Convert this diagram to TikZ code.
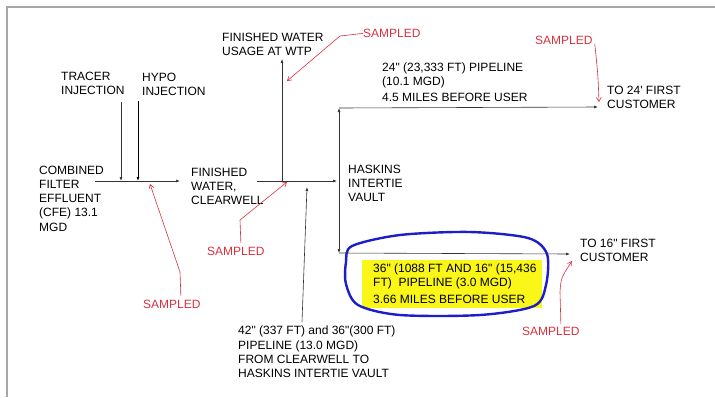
\documentclass[tikz,border=0pt]{standalone}
\usepackage{fontspec}
\setmainfont{Liberation Sans}[Ligatures=TeXOff]
\usepackage{xcolor}
\usetikzlibrary{calc,arrows.meta,positioning}
\definecolor{redpen}{RGB}{216,48,62}
\definecolor{bluepen}{RGB}{30,30,200}
\definecolor{hilite}{RGB}{250,246,24}

\begin{document}
\begin{tikzpicture}[x=1pt,y=-1pt,
    lbl/.style={anchor=base west,inner sep=0pt,align=left,font=\fontsize{12}{14.2}\selectfont},
    smp/.style={lbl,text=redpen},
    pipe/.style={draw=black!80,line width=0.6pt,-{Latex[length=4pt,width=3pt]}},
    pen/.style={draw=redpen,line width=0.6pt,-{Straight Barb[length=4pt,width=5pt]}}]
   \useasboundingbox (0,0) rectangle (715,397);
   % page frame
   \draw[gray!70,line width=1.5pt] (7,397) -- (7,7) -- (715,7);
   % highlight
   \fill[hilite] (362,260) rectangle (542,308);
   \draw[bluepen,line width=2.4pt] plot[smooth cycle] coordinates {(352,246) (400,235) (470,232) (528,238) (547,254) (546,285) (534,306) (480,315) (400,315) (358,305) (346,284) (346,262)};
   % labels (placed at the baseline of their last line)
   \node[lbl] (tr)   at (61,94.5)   {TRACER\\INJECTION};
   \node[lbl] (hy)   at (142,95.5)  {HYPO\\INJECTION};
   \node[lbl] (use)  at (222,55.5)  {FINISHED WATER\\USAGE AT WTP};
   \node[lbl] (cfe)  at (39,231)    {COMBINED\\FILTER\\EFFLUENT\\(CFE) 13.1\\MGD};
   \node[lbl] (fin)  at (191,204.5) {FINISHED\\WATER,\\CLEARWELL};
   \node[lbl] (vlt)  at (348,201.5) {HASKINS\\INTERTIE\\VAULT};
   \node[lbl] (p24)  at (382,101.5) {24" (23,333 FT) PIPELINE\\(10.1 MGD)\\[2pt]4.5 MILES BEFORE USER};
   \node[lbl] (c24)  at (607,108.5) {TO 24' FIRST\\CUSTOMER};
   \node[lbl] (c16)  at (580,261.5) {TO 16" FIRST\\CUSTOMER};
   \node[lbl] (p16)  at (373,303.5) {36" (1088 FT AND 16" (15,436\\FT)\ \ PIPELINE (3.0 MGD)\\[3pt]3.66 MILES BEFORE USER};
   \node[lbl] (p42)  at (238,377.5) {42" (337 FT) and 36"(300 FT)\\PIPELINE (13.0 MGD)\\FROM CLEARWELL TO\\HASKINS INTERTIE VAULT};
   \node[smp] (s1)   at (363,37.5)  {SAMPLED};
   \node[smp] (s2)   at (535,44.5)  {SAMPLED};
   \node[smp] (s3)   at (143,308.5) {SAMPLED};
   \node[smp] (s4)   at (207,255.5) {SAMPLED};
   \node[smp] (s5)   at (522,335.5) {SAMPLED};
   % pipe points
   \coordinate (a0) at (95,181);   \coordinate (a1) at (180,181);
   \coordinate (ti) at (121,181);  \coordinate (hi) at (138,181);
   \coordinate (b0) at (257,181);  \coordinate (b1) at (337,181);
   \coordinate (uj) at (282,181);  \coordinate (ut) at (282,59);
   \coordinate (pb) at (302,322);  \coordinate (pt) at (307,187);
   \coordinate (vj) at (339,181);
   \coordinate (vu) at (339,108);  \coordinate (vd) at (339,253);
   \coordinate (e24) at (598,107); \coordinate (e16) at (570,254);
   \draw[pipe] (a0) -- (a1);
   \draw[pipe] (tr.south -| ti) ++(0,7) -- (ti);
   \draw[pipe,draw=black,line width=0.9pt] (hy.south -| hi) ++(0,5) -- (hi);
   \draw[pipe] (b0) -- (b1);
   \draw[pipe] (uj) -- (ut);
   \draw[pipe] (pb) -- (pt);
   \draw[pipe] (vj) -- (vu);
   \draw[pipe] (vj) -- (vd);
   \draw[pipe] (vu) -- (e24);
   \draw[pipe] (vd) -- (e16);
   % sample marks
   \coordinate (t1) at (287,81);  \coordinate (t2) at (599,102);
   \coordinate (t3) at (150,184); \coordinate (t4) at (287,182);
   \coordinate (t5) at (572,261);
   \draw[pen] (s1.west) -- (340,36) -- (t1);
   \draw[pen] ($(s2.south east)+(2,-1)$) .. controls (598,75) .. (t2);
   \draw[pen] ($(s3.north)+(9,-4)$) -- (180,272) -- (t3);
   \draw[pen] ($(s4.north)+(5,-4)$) -- (240,220) -- (t4);
   \draw[pen] ($(s5.north)+(10,-3)$) -- (560,292) .. controls (561,278) .. (t5);
  \end{tikzpicture}
\end{document}
